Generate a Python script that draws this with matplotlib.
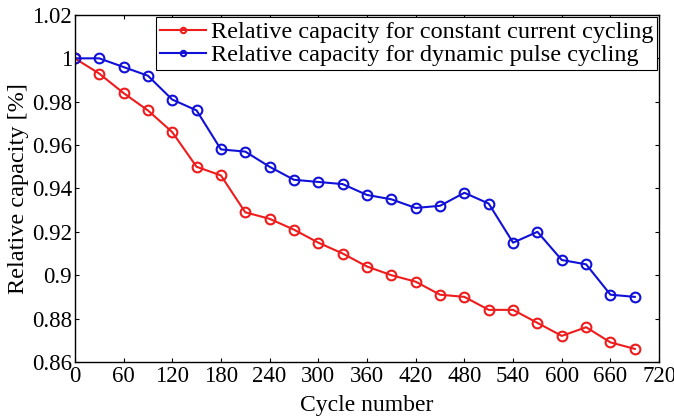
import matplotlib.pyplot as plt
import numpy as np

plt.rcParams['font.family'] = ['Liberation Serif', 'DejaVu Serif']

cycles = np.arange(0, 691, 30)
cc_cap = [1.000, 0.993, 0.984, 0.976, 0.966, 0.950, 0.946, 0.929, 0.926, 0.921,
          0.915, 0.910, 0.904, 0.900, 0.897, 0.891, 0.890, 0.884, 0.884, 0.878,
          0.872, 0.876, 0.869, 0.866]
dp_cap = [1.000, 1.000, 0.996, 0.992, 0.981, 0.976, 0.958, 0.957, 0.950, 0.944,
          0.943, 0.942, 0.937, 0.935, 0.931, 0.932, 0.938, 0.933, 0.915, 0.920,
          0.907, 0.905, 0.891, 0.890]
xticks = np.arange(0, 721, 60)
yticks = np.arange(0.86, 1.021, 0.02)

fig = plt.figure(figsize=(6.74, 4.16), dpi=100)
ax = fig.add_axes([0.111, 0.130, 0.867, 0.834])

ax.plot(cycles, cc_cap, '-o', color='#ee1c1c', lw=1.5, ms=7, mfc='none', mew=1.5,
        label='Relative capacity for constant current cycling')
ax.plot(cycles, dp_cap, '-o', color='#1010d8', lw=1.5, ms=7, mfc='none', mew=1.5,
        label='Relative capacity for dynamic pulse cycling')

ax.set_xlim(0, 720)
ax.set_ylim(0.86, 1.02)
ax.set_xticks(xticks)
ax.set_yticks(yticks)
ax.set_yticklabels(['%g' % round(v, 2) for v in yticks])
ax.tick_params(direction='in', top=True, right=True, labelsize=16.5, length=3, pad=2)
ax.tick_params(axis='x', pad=3)
for s in ax.spines.values():
    s.set_linewidth(1.0)

ax.set_xlabel('Cycle number', fontsize=17, labelpad=6)
ax.set_ylabel('Relative capacity [%]', fontsize=17.5, labelpad=2)

leg = ax.legend(loc='upper right', fontsize=17.5, fancybox=False, edgecolor='black',
                framealpha=1, markerscale=0.55, handlelength=1.9, handletextpad=0.2,
                borderpad=0.15, labelspacing=0.05, borderaxespad=0.1)
leg.get_frame().set_linewidth(0.8)

fig.savefig('out.png', dpi=100)
